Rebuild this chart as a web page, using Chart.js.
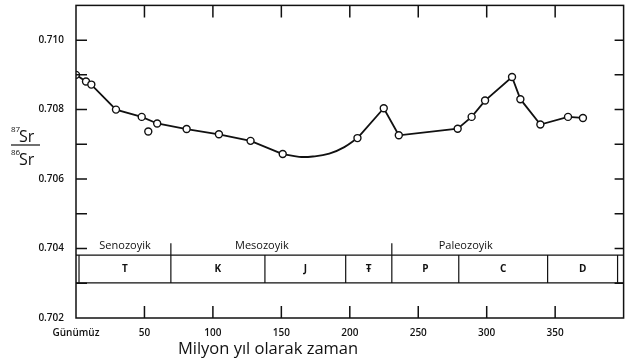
<!DOCTYPE html>
<html>
<head>
<meta charset="utf-8">
<script src="https://cdn.jsdelivr.net/npm/chart.js@4"></script>
<style>
html, body { margin: 0; padding: 0; background: #fff; }
#wrap { width: 629px; height: 362px; }
</style>
</head>
<body>
<div id="wrap"><canvas id="sr"></canvas></div>
<script>
// measured points (age in Ma, 87Sr/86Sr)
const ages = [0, 7.3, 11.2, 29.2, 48, 59.3, 80.8, 104.4, 127.5, 151,
    205.6, 224.8, 235.8, 278.8, 289, 298.8, 318.5, 324.6, 339.2, 359.4, 370.3];
const ratios = [0.7090, 0.70881, 0.70872, 0.7080, 0.70779, 0.7076, 0.70744, 0.70729, 0.7071, 0.70672,
    0.70718, 0.70804, 0.70726, 0.70745, 0.70779, 0.70826, 0.70894, 0.7083, 0.70757, 0.70779, 0.70776];
// smooth Jurassic part of the curve (no markers)
const curveAges = [151, 163, 173, 185, 196, 205.6];
const curveRatios = [0.70672, 0.70664, 0.70665, 0.70673, 0.70692, 0.70718];
const outlierAges = [52.8];
const outlierRatios = [0.70737];

const periodNames = ['T', 'K', 'J', 'Ŧ', 'P', 'C', 'D'];
const periodBounds = [2.2, 69.3, 138, 197, 230.7, 279.6, 344.5, 395.6];
const eraNames = ['Senozoyik', 'Mesozoyik', 'Paleozoyik'];
const eraLabelAges = [35.8, 135.8, 284.7];
const eraBounds = [69.3, 230.7];

const tickFont = { family: 'Open Sans', size: 10, weight: '600' };
const ink = '#111';

const extras = {
    id: 'extras',
    afterDraw(chart) {
        const ctx = chart.ctx;
        const a = chart.chartArea;
        const x = chart.scales.x, y = chart.scales.y;
        ctx.save();
        ctx.strokeStyle = ink;
        ctx.fillStyle = ink;
        ctx.lineWidth = 1.5;
        ctx.strokeRect(a.left, a.top, a.right - a.left, a.bottom - a.top);

        // inward tick marks
        x.ticks.forEach(t => {
            if (t.value <= x.min || t.value >= x.max) return;
            const px = x.getPixelForValue(t.value);
            ctx.beginPath();
            ctx.moveTo(px, a.top); ctx.lineTo(px, a.top + 12);
            ctx.moveTo(px, a.bottom); ctx.lineTo(px, a.bottom - 12);
            ctx.stroke();
        });
        y.ticks.forEach(t => {
            if (t.value <= y.min + 1e-9 || t.value >= y.max - 1e-9) return;
            const py = y.getPixelForValue(t.value);
            ctx.beginPath();
            ctx.moveTo(a.left, py); ctx.lineTo(a.left + 11, py);
            ctx.moveTo(a.right, py); ctx.lineTo(a.right - 9, py);
            ctx.stroke();
        });

        // period box
        const top = y.getPixelForValue(0.70381);
        const bot = y.getPixelForValue(0.70301);
        ctx.lineWidth = 1.2;
        ctx.beginPath();
        ctx.moveTo(a.left, top); ctx.lineTo(a.right, top);
        ctx.moveTo(a.left, bot); ctx.lineTo(a.right, bot);
        periodBounds.forEach(b => {
            const px = x.getPixelForValue(b);
            ctx.moveTo(px, top); ctx.lineTo(px, bot);
        });
        eraBounds.forEach(b => {
            const px = x.getPixelForValue(b);
            ctx.moveTo(px, top - 12); ctx.lineTo(px, top);
        });
        ctx.stroke();

        ctx.textAlign = 'center';
        ctx.textBaseline = 'middle';
        ctx.font = 'bold 10px "Open Sans"';
        periodNames.forEach((n, i) => {
            const mid = (periodBounds[i] + periodBounds[i + 1]) / 2;
            ctx.fillText(n, x.getPixelForValue(mid), (top + bot) / 2);
        });
        ctx.font = '11px "Open Sans"';
        eraNames.forEach((n, i) => {
            ctx.fillText(n, x.getPixelForValue(eraLabelAges[i]), top - 9);
        });

        // axis title
        ctx.font = '16.5px "Open Sans"';
        ctx.fillText('Milyon yıl olarak zaman', 268, 349);

        // y label 87Sr / 86Sr
        ctx.textAlign = 'left';
        ctx.font = '8px "Open Sans"';
        ctx.fillText('87', 11, 130);
        ctx.fillText('86', 11, 153);
        ctx.font = '16px "Open Sans"';
        ctx.fillText('Sr', 19, 137);
        ctx.fillText('Sr', 19, 160);
        ctx.lineWidth = 1.2;
        ctx.beginPath();
        ctx.moveTo(11, 145); ctx.lineTo(40, 145);
        ctx.stroke();
        ctx.restore();
    }
};

new Chart(document.getElementById('sr'), {
    type: 'line',
    data: {
        datasets: [{
            data: ages.map((v, i) => ({ x: v, y: ratios[i] })),
            borderColor: ink,
            borderWidth: 1.8,
            pointRadius: 3.5,
            pointBorderWidth: 1.4,
            pointBackgroundColor: '#fff',
            pointBorderColor: ink,
            segment: {
                borderColor: c => c.p0DataIndex === 9 ? 'transparent' : ink
            }
        }, {
            data: outlierAges.map((v, i) => ({ x: v, y: outlierRatios[i] })),
            showLine: false,
            pointRadius: 3.5,
            pointBorderWidth: 1.4,
            pointBackgroundColor: '#fff',
            pointBorderColor: ink
        }, {
            data: curveAges.map((v, i) => ({ x: v, y: curveRatios[i] })),
            borderColor: ink,
            borderWidth: 1.8,
            pointRadius: 0,
            tension: 0.4
        }]
    },
    options: {
        responsive: true,
        maintainAspectRatio: false,
        animation: false,
        layout: { padding: { top: 0, right: 5, left: 0, bottom: 0 } },
        plugins: { legend: { display: false }, tooltip: { enabled: false } },
        scales: {
            x: {
                type: 'linear',
                min: 0,
                max: 400,
                grid: { display: false },
                border: { display: false },
                afterFit: s => { s.height = 44; },
                ticks: {
                    stepSize: 50,
                    padding: 1,
                    color: ink,
                    font: tickFont,
                    maxRotation: 0,
                    callback: v => v === 0 ? 'Günümüz' : (v >= 400 ? '' : v)
                }
            },
            y: {
                min: 0.702,
                max: 0.711,
                grid: { display: false },
                border: { display: false },
                afterFit: s => { s.width = 76; s.paddingTop = 0; },
                ticks: {
                    stepSize: 0.001,
                    padding: 4,
                    color: ink,
                    font: tickFont,
                    callback: v => Math.round(v * 1000) % 2 === 0 ? v.toFixed(3) : ''
                }
            }
        }
    },
    plugins: [extras]
});
</script>
</body>
</html>
